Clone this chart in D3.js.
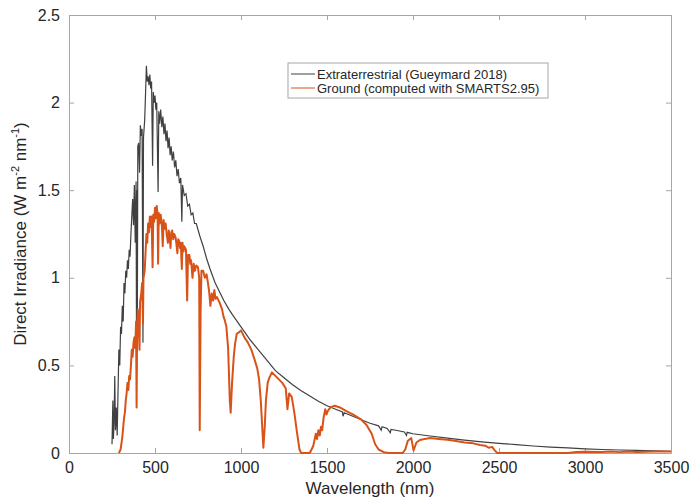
<!DOCTYPE html>
<html>
<head>
<meta charset="utf-8">
<script src="https://cdn.jsdelivr.net/npm/d3@7"></script>
<style>
  body { margin: 0; background: #fff; }
  text { font-family: "Liberation Sans", Arial, sans-serif; fill: #262626; }
</style>
</head>
<body>
<div id="graph-container"></div>
<script>
// [wavelength nm, irradiance]
const etrPoints = [
    [250, 0.05], [255, 0.3], [258, 0.08], [262, 0.17], [266, 0.44], [270, 0.13], [275, 0.26], [280, 0.1], [285, 0.35], [290, 0.59],
    [295, 0.5], [300, 0.72], [305, 0.68], [310, 0.84], [315, 0.75], [320, 0.97], [325, 0.91], [330, 1.04], [335, 1.0], [340, 1.1],
    [345, 1.05], [350, 1.16], [355, 1.12], [360, 1.25], [365, 1.35], [370, 1.45], [375, 1.3], [380, 1.53], [385, 1.2], [390, 1.55],
    [393, 0.45], [396, 1.5], [397, 0.6], [400, 1.75], [405, 1.77], [410, 1.6], [415, 1.87], [420, 1.81], [425, 1.85], [430, 0.63],
    [433, 1.8], [440, 1.9], [445, 2.05], [450, 2.21], [455, 2.12], [460, 2.15], [465, 2.1], [470, 2.16], [475, 2.08], [480, 2.12],
    [486, 1.64], [490, 2.06], [495, 2.0], [500, 2.04], [505, 1.96], [510, 2.0], [518, 1.49], [522, 1.95], [527, 1.88], [533, 1.96],
    [540, 1.86], [546, 1.92], [552, 1.82], [558, 1.88], [564, 1.78], [570, 1.84], [576, 1.74], [582, 1.8], [588, 1.7], [594, 1.75],
    [600, 1.67], [607, 1.72], [614, 1.63], [621, 1.67], [628, 1.58], [635, 1.62], [642, 1.54], [650, 1.57], [656, 1.32], [660, 1.53],
    [670, 1.47], [680, 1.48], [690, 1.41], [700, 1.42], [710, 1.36], [720, 1.37], [730, 1.31], [740, 1.31], [760, 1.24], [780, 1.18],
    [800, 1.11], [820, 1.05], [850, 0.97], [870, 0.93], [900, 0.87], [930, 0.82], [950, 0.79], [1000, 0.72], [1050, 0.65], [1100, 0.59],
    [1150, 0.53], [1200, 0.47], [1250, 0.43], [1300, 0.39], [1350, 0.355], [1400, 0.325], [1450, 0.295], [1500, 0.27], [1550, 0.25], [1590, 0.235],
    [1593, 0.21], [1600, 0.23], [1650, 0.21], [1700, 0.19], [1750, 0.17], [1800, 0.155], [1815, 0.13], [1820, 0.15], [1850, 0.14], [1868, 0.115],
    [1872, 0.135], [1900, 0.13], [1950, 0.12], [1962, 0.1], [1966, 0.118], [2000, 0.11], [2100, 0.097], [2200, 0.085], [2300, 0.073], [2400, 0.063],
    [2500, 0.055], [2600, 0.048], [2700, 0.04], [2800, 0.034], [2900, 0.029], [3000, 0.024], [3100, 0.02], [3200, 0.017], [3300, 0.015], [3400, 0.012],
    [3500, 0.01],
];

const groundPoints = [
    [290, 0], [300, 0.02], [310, 0.09], [320, 0.2], [325, 0.23], [330, 0.3], [335, 0.34], [340, 0.4], [345, 0.36], [350, 0.44],
    [355, 0.42], [360, 0.5], [365, 0.59], [370, 0.55], [375, 0.63], [380, 0.66], [385, 0.6], [390, 0.75], [393, 0.26], [396, 0.7],
    [400, 0.82], [405, 0.75], [410, 0.59], [413, 0.86], [420, 0.91], [425, 0.97], [430, 0.74], [433, 1.0], [440, 1.04], [445, 1.14],
    [450, 1.25], [455, 1.2], [460, 1.31], [465, 1.26], [470, 1.35], [475, 1.29], [480, 1.35], [486, 1.06], [490, 1.36], [495, 1.32],
    [500, 1.4], [505, 1.34], [510, 1.41], [515, 1.36], [518, 1.08], [522, 1.37], [527, 1.31], [533, 1.36], [540, 1.3], [545, 1.18],
    [550, 1.33], [556, 1.28], [562, 1.31], [568, 1.25], [575, 1.2], [580, 1.27], [586, 1.22], [590, 1.17], [595, 1.26], [600, 1.27],
    [606, 1.22], [612, 1.25], [620, 1.23], [626, 1.18], [630, 1.14], [635, 1.22], [640, 1.21], [646, 1.17], [650, 1.2], [656, 1.05],
    [660, 1.2], [666, 1.15], [670, 1.18], [680, 1.16], [687, 0.87], [692, 1.13], [700, 1.13], [705, 1.08], [710, 1.1], [718, 1.0],
    [725, 1.08], [732, 1.04], [740, 1.07], [750, 1.06], [757, 1.0], [760, 0.13], [765, 0.8], [770, 1.04], [780, 1.04], [790, 1.0],
    [800, 1.02], [808, 0.97], [815, 0.92], [822, 0.84], [830, 0.91], [838, 0.87], [845, 0.93], [852, 0.88], [860, 0.89], [875, 0.86],
    [890, 0.82], [898, 0.78], [905, 0.76], [915, 0.72], [925, 0.6], [935, 0.3], [940, 0.23], [948, 0.4], [958, 0.55], [965, 0.62],
    [975, 0.68], [990, 0.69], [1000, 0.7], [1020, 0.66], [1040, 0.63], [1060, 0.59], [1080, 0.53], [1095, 0.48], [1105, 0.42], [1115, 0.3],
    [1125, 0.12], [1130, 0.03], [1138, 0.15], [1145, 0.3], [1155, 0.4], [1165, 0.43], [1180, 0.46], [1200, 0.44], [1220, 0.42], [1240, 0.4],
    [1260, 0.37], [1270, 0.25], [1280, 0.34], [1295, 0.32], [1310, 0.23], [1325, 0.12], [1340, 0.02], [1350, 0], [1400, 0], [1420, 0.04],
    [1435, 0.11], [1442, 0.08], [1450, 0.13], [1458, 0.1], [1465, 0.15], [1472, 0.13], [1480, 0.2], [1490, 0.25], [1497, 0.22], [1505, 0.24],
    [1520, 0.26], [1545, 0.27], [1575, 0.26], [1610, 0.24], [1650, 0.22], [1700, 0.19], [1730, 0.16], [1760, 0.11], [1780, 0.05], [1800, 0.02],
    [1830, 0.005], [1860, 0], [1940, 0], [1955, 0.02], [1970, 0.07], [1990, 0.085], [2003, 0.015], [2020, 0.06], [2040, 0.074], [2060, 0.078],
    [2100, 0.085], [2150, 0.08], [2200, 0.075], [2250, 0.068], [2300, 0.06], [2350, 0.055], [2390, 0.046], [2420, 0.042], [2440, 0.03], [2460, 0.035],
    [2475, 0.015], [2490, 0], [2900, 0], [2950, 0.006], [3000, 0.007], [3100, 0.006], [3150, 0.009], [3200, 0.005], [3250, 0.008], [3300, 0.006],
    [3400, 0.008], [3500, 0.009],
];

const xTicks = [0, 500, 1000, 1500, 2000, 2500, 3000, 3500];
const yTicks = [0, 0.5, 1, 1.5, 2, 2.5];
const seriesNames = ['Extraterrestrial (Gueymard 2018)', 'Ground (computed with SMARTS2.95)'];
const seriesColors = ['#404040', '#d95319'];

const WIDTH = 691, HEIGHT = 501;
const margin = { top: 15, right: 20, bottom: 48, left: 69 };
const width = 602, height = 438;

const svg = d3.select('#graph-container').append('svg')
    .attr('width', WIDTH)
    .attr('height', HEIGHT);

const container = svg.append('g')
    .attr('transform', `translate(${margin.left} ${margin.top})`);

const xScale = d3.scaleLinear().domain([0, 3500]).range([0, width]);
const yScale = d3.scaleLinear().domain([0, 2.5]).range([height, 0]);

const axisColor = '#a6a6a6';

// axes (MATLAB style: inward ticks, closed box)
container.append('g')
    .attr('transform', `translate(0, ${height})`)
    .call(d3.axisBottom(xScale).tickValues(xTicks).tickSizeInner(-5).tickSizeOuter(0).tickPadding(9).tickFormat(d3.format('d')));
container.append('g')
    .call(d3.axisLeft(yScale).tickValues(yTicks).tickSizeInner(-5).tickSizeOuter(0).tickPadding(9).tickFormat(d3.format('')));
container.append('g')
    .attr('transform', `translate(${width}, 0)`)
    .call(d3.axisRight(yScale).tickValues(yTicks).tickSizeInner(-5).tickSizeOuter(0).tickFormat(''));
container.append('g')
    .call(d3.axisTop(xScale).tickValues(xTicks).tickSizeInner(-5).tickSizeOuter(0).tickFormat(''));

container.selectAll('.domain, .tick line').attr('stroke', axisColor);
container.selectAll('.tick text')
    .style('font-size', '16px')
    .style('font-family', '"Liberation Sans", Arial, sans-serif')
    .attr('fill', '#262626');

const line = d3.line()
    .x((d) => xScale(d[0]))
    .y((d) => yScale(d[1]));

container.append('path')
    .datum(etrPoints)
    .attr('fill', 'none')
    .attr('stroke', seriesColors[0])
    .attr('stroke-width', 1.2)
    .attr('d', line);

container.append('path')
    .datum(groundPoints)
    .attr('fill', 'none')
    .attr('stroke', seriesColors[1])
    .attr('stroke-width', 2)
    .attr('stroke-linejoin', 'round')
    .attr('d', line);

// axis titles
svg.append('text')
    .attr('x', margin.left + width / 2)
    .attr('y', 494)
    .attr('text-anchor', 'middle')
    .style('font-size', '17px')
    .text('Wavelength (nm)');

const yTitle = svg.append('text')
    .attr('transform', `translate(26, ${margin.top + height / 2}) rotate(-90)`)
    .attr('text-anchor', 'middle')
    .style('font-size', '17px');
yTitle.append('tspan').text('Direct Irradiance (W m');
yTitle.append('tspan').attr('dy', -7).style('font-size', '11px').text('-2');
yTitle.append('tspan').attr('dy', 7).text(' nm');
yTitle.append('tspan').attr('dy', -7).style('font-size', '11px').text('-1');
yTitle.append('tspan').attr('dy', 7).text(')');

// legend
const legend = svg.append('g').attr('transform', 'translate(288, 63)');
legend.append('rect')
    .attr('width', 260)
    .attr('height', 35)
    .attr('fill', '#fff')
    .attr('stroke', axisColor);

legend.selectAll('line')
    .data(seriesNames)
    .join('line')
    .attr('x1', 3)
    .attr('x2', 27)
    .attr('y1', (d, i) => 11 + i * 14)
    .attr('y2', (d, i) => 11 + i * 14)
    .attr('stroke', (d, i) => seriesColors[i])
    .attr('stroke-width', 1);

legend.selectAll('text')
    .data(seriesNames)
    .join('text')
    .attr('x', 29)
    .attr('y', (d, i) => 15.5 + i * 14)
    .style('font-size', '13px')
    .text((d) => d);
</script>
</body>
</html>
